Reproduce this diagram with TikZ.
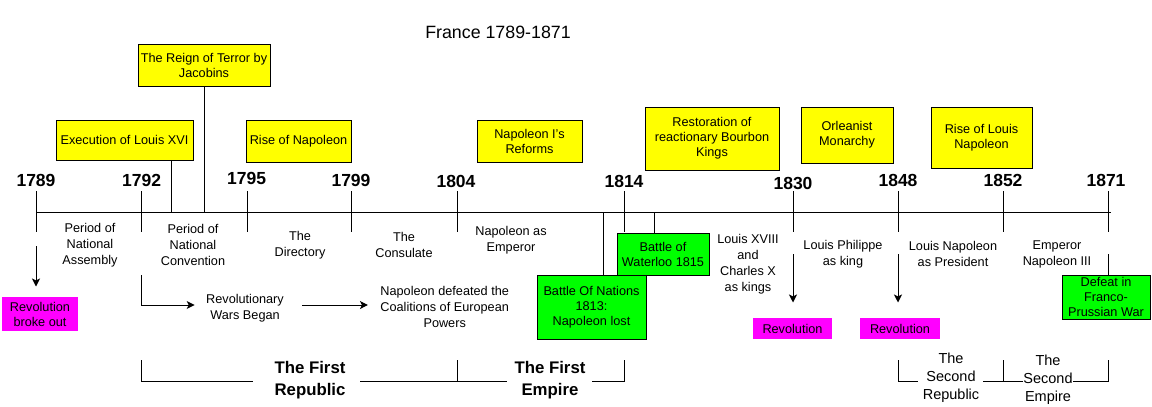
\documentclass[tikz,border=0pt]{standalone}
\usepackage{fontspec}
\setmainfont{Liberation Sans}
\usetikzlibrary{arrows.meta}
\definecolor{ybox}{RGB}{255,255,0}
\definecolor{gbox}{RGB}{0,255,0}
\definecolor{mbox}{RGB}{255,0,255}
\begin{document}
\begin{tikzpicture}[x=1pt,y=-1pt,line width=1pt,
  every node/.style={inner sep=0pt,align=center,font=\fontsize{12.7}{15}\selectfont},
  ybx/.style={draw,fill=ybox},
  gbx/.style={draw,fill=gbox},
  mbx/.style={fill=mbox},
  yrlabel/.style={font=\fontsize{17.5}{20}\selectfont\bfseries,anchor=base},
  belowtxt/.style={font=\fontsize{12.7}{16}\selectfont},
  arr/.style={-{Stealth[length=8pt,width=8pt,inset=2pt]}},
  bigtxt/.style={font=\fontsize{16.8}{22}\selectfont\bfseries},
  midtxt/.style={font=\fontsize{14.5}{18}\selectfont}]
\useasboundingbox (0,0) rectangle (1152,407);

% title
\node[font=\fontsize{17.8}{20}\selectfont] (title) at (498,32) {France 1789-1871};

% main timeline
\coordinate (tlstart) at (36,212);
\coordinate (tlend) at (1111,212);
\draw (tlstart) -- (tlend);

% years and ticks
\foreach \x/\yr/\b/\lx in {36/1789/186/36, 141/1792/186/141.7, 247/1795/184/246.7, 351/1799/186/351,
  457/1804/187/456, 624/1814/187/624, 793/1830/189/793, 898/1848/186/898, 1003/1852/186/1003, 1108/1871/186/1106}{
  \node[yrlabel] (y\yr) at (\lx,\b) {\yr};
  \coordinate (t\yr a) at (\x,191);
  \coordinate (t\yr b) at (\x,232);
  \draw (t\yr a) -- (t\yr b);
}

% yellow boxes
\node[ybx,minimum width=132pt,minimum height=42pt] (terror) at (204,65) {The Reign of Terror by\\Jacobins};
\node[ybx,minimum width=137pt,minimum height=40pt] (exec) at (124.5,140) {Execution of Louis XVI};
\node[ybx,minimum width=105pt,minimum height=42pt] (risenap) at (298.5,141) {Rise of Napoleon};
\node[ybx,minimum width=105pt,minimum height=42pt] (reforms) at (529.5,141) {Napoleon I's\\Reforms};
\node[ybx,minimum width=134pt,minimum height=63pt] (restor) at (712,138.5) {Restoration of\\reactionary Bourbon\\Kings};
\node[ybx,minimum width=92pt,minimum height=56pt] (orlean) at (847,135) {Orleanist\\Monarchy};
\node[ybx,minimum width=101pt,minimum height=61pt] (riselouis) at (981.5,137.5) {Rise of Louis\\Napoleon};

% connectors of yellow boxes
\coordinate (execpt) at (171,212);
\draw (execpt |- exec.south) -- (execpt);
\coordinate (terrorpt) at (204,212);
\draw (terror.south) -- (terrorpt);

% texts below the line
\node[belowtxt] (assembly) at (90,245) {Period of\\National\\Assembly};
\node[belowtxt] (convention) at (193,245) {Period of\\National\\Convention};
\node[belowtxt] (directory) at (300,245) {The\\Directory};
\node[belowtxt] (consulate) at (404,245) {The\\Consulate};
\node[belowtxt] (emperor) at (511,240) {Napoleon as\\Emperor};
\node[belowtxt] (louis18) at (748,264.5) {Louis XVIII\\and\\Charles X\\as kings};
\node[belowtxt] (philippe) at (843,254) {Louis Philippe\\as king};
\node[belowtxt] (lnpres) at (953,254) {Louis Napoleon\\as President};
\node[belowtxt] (nap3) at (1057,254) {Emperor\\Napoleon III};

% green boxes
\node[gbx,minimum width=92pt,minimum height=42pt] (waterloo) at (663,254) {Battle of\\Waterloo 1815};
\node[gbx,minimum width=109pt,minimum height=64pt] (nations) at (591.5,307) {Battle Of Nations\\1813:\\Napoleon lost};
\node[gbx,minimum width=88pt,minimum height=44pt] (defeat) at (1106,297) {Defeat in\\Franco-\\Prussian War};
\coordinate (wlpt) at (654,212);
\draw (wlpt) -- (wlpt |- waterloo.north);
\coordinate (napt) at (603,212);
\draw (napt) -- (napt |- nations.north);
\coordinate (dfpt) at (1108,254);
\draw (dfpt) -- (dfpt |- defeat.north);

% magenta boxes
\node[mbx,minimum width=76pt,minimum height=34pt] (rev1) at (40,314) {Revolution\\broke out};
\node[mbx,minimum width=79pt,minimum height=21pt] (rev2) at (792.5,328.5) {Revolution};
\node[mbx,minimum width=80pt,minimum height=21pt] (rev3) at (900,328.5) {Revolution};
\coordinate (a1789) at (36,246);
\draw[arr,shorten >=10pt] (a1789) -- (a1789 |- rev1.north);
\coordinate (a1830) at (793,254);
\draw[arr,shorten >=15pt] (a1830) -- (a1830 |- rev2.north);
\coordinate (a1848) at (898,254);
\draw[arr,shorten >=15pt] (a1848) -- (a1848 |- rev3.north);

% revolutionary wars
\node[belowtxt] (revwars) at (245,308) {Revolutionary\\Wars Began};
\node[belowtxt] (coal) at (444.7,306.5) {Napoleon defeated the\\Coalitions of European\\Powers};
\coordinate (rwtop) at (141,275);
\draw[arr,shorten >=11pt] (rwtop) |- ([yshift=3pt]revwars.west);
\draw[arr,shorten <=18pt,shorten >=12pt] ([yshift=3pt]revwars.east) -- ([yshift=3pt]revwars.east -| coal.west);

% eras
\node[bigtxt] (firstrep) at (310,380) {The First\\Republic};
\node[bigtxt] (firstemp) at (550,380) {The First\\Empire};
\node[midtxt] (secrep) at (951,378) {The\\Second\\Republic};
\node[midtxt] (secemp) at (1048,380) {The\\Second\\Empire};

\coordinate (b1a) at (141,360);
\coordinate (b1b) at (141,381);
\draw (b1a) -- (b1b) -- (253,381);
\coordinate (b2a) at (457,360);
\coordinate (b2b) at (457,381);
\draw (b2a) -- (b2b);
\draw (360,381) -- (507,381);
\coordinate (b3a) at (624,360);
\coordinate (b3b) at (624,381);
\draw (592,381) -- (b3b) -- (b3a);

\coordinate (b4a) at (898,360);
\coordinate (b4b) at (898,381);
\draw (b4a) -- (b4b) -- (918,381);
\coordinate (b5a) at (1003,360);
\coordinate (b5b) at (1003,381);
\draw (b5a) -- (b5b);
\draw (983,381) -- (1023,381);
\coordinate (b6a) at (1108,360);
\coordinate (b6b) at (1108,381);
\draw (1073,381) -- (b6b) -- (b6a);
\end{tikzpicture}
\end{document}
